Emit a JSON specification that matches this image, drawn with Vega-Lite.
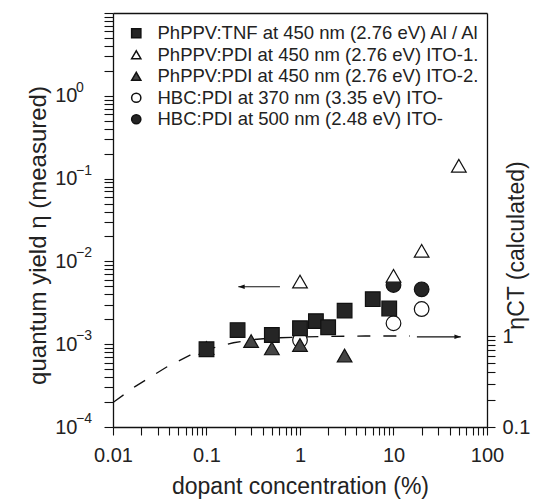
{
  "$schema": "https://vega.github.io/schema/vega-lite/v6.json",
  "width": 374,
  "height": 414,
  "autosize": {"type": "none"},
  "padding": {"left": 113, "top": 13, "right": 59, "bottom": 72},
  "background": "white",
  "config": {
    "font": "Liberation Sans",
    "view": {"stroke": null},
    "axis": {
      "grid": false,
      "domain": true,
      "domainColor": "#111",
      "domainWidth": 1.3,
      "tickColor": "#111",
      "tickWidth": 1.1,
      "labelColor": "#222",
      "labelFontSize": 20,
      "titleFontSize": 23,
      "titleFontWeight": "normal",
      "titleColor": "#222",
      "labelFlush": false,
      "labelOverlap": false
    }
  },
  "datasets": {
    "pts": [
      {"c": 10, "eta": 0.00519, "series": "HBC:PDI at 500 nm (2.48 eV) ITO-"},
      {"c": 20, "eta": 0.0046, "series": "HBC:PDI at 500 nm (2.48 eV) ITO-"},
      {"c": 1, "eta": 0.00112, "series": "HBC:PDI at 370 nm (3.35 eV) ITO-"},
      {"c": 10, "eta": 0.00179, "series": "HBC:PDI at 370 nm (3.35 eV) ITO-"},
      {"c": 20, "eta": 0.00266, "series": "HBC:PDI at 370 nm (3.35 eV) ITO-"},
      {"c": 0.1, "eta": 0.0009, "series": "PhPPV:PDI at 450 nm (2.76 eV) ITO-2."},
      {"c": 0.3, "eta": 0.00109, "series": "PhPPV:PDI at 450 nm (2.76 eV) ITO-2."},
      {"c": 0.5, "eta": 0.00089, "series": "PhPPV:PDI at 450 nm (2.76 eV) ITO-2."},
      {"c": 1, "eta": 0.00098, "series": "PhPPV:PDI at 450 nm (2.76 eV) ITO-2."},
      {"c": 3, "eta": 0.00073, "series": "PhPPV:PDI at 450 nm (2.76 eV) ITO-2."},
      {"c": 0.1, "eta": 0.00087, "series": "PhPPV:TNF at 450 nm (2.76 eV) Al / Al"},
      {"c": 0.215, "eta": 0.00148, "series": "PhPPV:TNF at 450 nm (2.76 eV) Al / Al"},
      {"c": 0.5, "eta": 0.00129, "series": "PhPPV:TNF at 450 nm (2.76 eV) Al / Al"},
      {"c": 1, "eta": 0.00156, "series": "PhPPV:TNF at 450 nm (2.76 eV) Al / Al"},
      {"c": 1.48, "eta": 0.0019, "series": "PhPPV:TNF at 450 nm (2.76 eV) Al / Al"},
      {"c": 2, "eta": 0.0016, "series": "PhPPV:TNF at 450 nm (2.76 eV) Al / Al"},
      {"c": 3, "eta": 0.00254, "series": "PhPPV:TNF at 450 nm (2.76 eV) Al / Al"},
      {"c": 6, "eta": 0.0035, "series": "PhPPV:TNF at 450 nm (2.76 eV) Al / Al"},
      {"c": 9, "eta": 0.0027, "series": "PhPPV:TNF at 450 nm (2.76 eV) Al / Al"},
      {"c": 1, "eta": 0.0057, "series": "PhPPV:PDI at 450 nm (2.76 eV) ITO-1."},
      {"c": 10, "eta": 0.0067, "series": "PhPPV:PDI at 450 nm (2.76 eV) ITO-1."},
      {"c": 20, "eta": 0.0134, "series": "PhPPV:PDI at 450 nm (2.76 eV) ITO-1."},
      {"c": 50, "eta": 0.143, "series": "PhPPV:PDI at 450 nm (2.76 eV) ITO-1."}
    ],
    "calc": [
      {"c": 0.01, "v": 0.186},
      {"c": 0.0172, "v": 0.278},
      {"c": 0.0375, "v": 0.456},
      {"c": 0.0667, "v": 0.615},
      {"c": 0.1, "v": 0.711},
      {"c": 0.194, "v": 0.843},
      {"c": 0.3, "v": 0.91},
      {"c": 0.5, "v": 0.95},
      {"c": 1, "v": 0.975},
      {"c": 2, "v": 0.99},
      {"c": 5, "v": 1.0},
      {"c": 15, "v": 1.0}
    ],
    "arrowL": [{"x1": 0.219, "x2": 0.61, "y": 0.00494}],
    "arrowR": [{"x1": 17.8, "x2": 52.4, "y": 0.98}],
    "expo": [
      {"c": 0.01, "e": 0.0001, "t": "−4"},
      {"c": 0.01, "e": 0.001, "t": "−3"},
      {"c": 0.01, "e": 0.01, "t": "−2"},
      {"c": 0.01, "e": 0.1, "t": "−1"},
      {"c": 0.01, "e": 1, "t": "0"}
    ]
  },
  "layer": [
    {
      "layer": [
        {
          "data": {"name": "calc"},
          "mark": {"type": "line", "color": "#111", "strokeWidth": 1.3, "strokeDash": [13, 13], "clip": true},
          "encoding": {
            "x": {
              "field": "c", "type": "quantitative",
              "scale": {"type": "log", "domain": [0.01, 100]},
              "axis": {
                "orient": "bottom",
                "title": "dopant concentration (%)",
                "titleY": 59,
                "titleBaseline": "middle",
                "values": [0.01, 0.02, 0.03, 0.04, 0.05, 0.06, 0.07, 0.08, 0.09, 0.1, 0.2, 0.3, 0.4, 0.5, 0.6, 0.7, 0.8, 0.9, 1, 2, 3, 4, 5, 6, 7, 8, 9, 10, 20, 30, 40, 50, 60, 70, 80, 90, 100],
                "labelExpr": "abs(log(datum.value)/LN10 - round(log(datum.value)/LN10)) < 0.01 ? datum.label : ''",
                "tickSize": 8,
                "labelPadding": 10,
                "encode": {"ticks": {"update": {"y2": {"signal": "abs(log(datum.value)/LN10 - round(log(datum.value)/LN10)) < 0.01 ? 8 : 4"}}}}
              }
            },
            "y": {"field": "v", "type": "quantitative", "scale": {"type": "log", "domain": [0.1, 3548], "nice": false},
              "axis": {
                "orient": "right",
                "title": "ηCT (calculated)",
                "titleAngle": 270,
                "titleX": 29,
                "titleY": 232,
                "titleBaseline": "middle",
                "titleAlign": "center",
                "values": [0.1, 0.2, 0.3, 0.4, 0.5, 0.6, 0.7, 0.8, 0.9, 1],
                "labelExpr": "datum.value > 0.95 ? '1' : (datum.value < 0.15 ? '0.1' : '')",
                "tickSize": 8,
                "labelPadding": 7,
                "labelBaseline": "middle",
                "encode": {"ticks": {"update": {"x2": {"signal": "(datum.value > 0.95 || datum.value < 0.15) ? 8 : 5"}}}}
              }
            }
          }
        },
        {
          "data": {"name": "arrowR"},
          "mark": {"type": "rule", "color": "#111", "strokeWidth": 1.2},
          "encoding": {
            "x": {"field": "x1", "type": "quantitative"},
            "x2": {"field": "x2"},
            "y": {"field": "y", "type": "quantitative"}
          }
        },
        {
          "data": {"name": "arrowR"},
          "mark": {"type": "point", "shape": "M0,0 L-2,-0.7 L-2,0.7 Z", "size": 40, "filled": true, "color": "#111", "opacity": 1},
          "encoding": {
            "x": {"field": "x2", "type": "quantitative"},
            "y": {"field": "y", "type": "quantitative"}
          }
        }
      ]
    },
    {
      "layer": [
        {
          "data": {"name": "pts"},
          "mark": {"type": "point", "filled": true, "stroke": "#111", "strokeWidth": 1.2, "opacity": 1, "size": 215},
          "encoding": {
            "x": {
              "field": "c", "type": "quantitative",
              "scale": {"type": "log", "domain": [0.01, 100]},
              "axis": {"orient": "top", "labels": false, "ticks": false, "title": null, "domain": true, "domainColor": "#111", "domainWidth": 1.3}
            },
            "y": {
              "field": "eta", "type": "quantitative",
              "scale": {"type": "log", "domain": [0.0001, 10], "nice": false},
              "axis": {
                "orient": "left",
                "title": "quantum yield η (measured)",
                "titleFontSize": 24,
                "titleAngle": 270,
                "titleX": -75,
                "titleY": 222,
                "titleBaseline": "middle",
                "titleAlign": "center",
                "values": [0.0001, 0.0002, 0.0003, 0.0004, 0.0005, 0.0006, 0.0007, 0.0008, 0.0009, 0.001, 0.002, 0.003, 0.004, 0.005, 0.006, 0.007, 0.008, 0.009, 0.01, 0.02, 0.03, 0.04, 0.05, 0.06, 0.07, 0.08, 0.09, 0.1, 0.2, 0.3, 0.4, 0.5, 0.6, 0.7, 0.8, 0.9, 1, 2, 3, 4, 5, 6, 7, 8, 9, 10],
                "labelExpr": "(abs(log(datum.value)/LN10 - round(log(datum.value)/LN10)) > 0.01 || datum.value > 5) ? '' : '10'",
                "tickSize": 9,
                "labelPadding": 27,
                "labelBaseline": "middle",
                "encode": {"ticks": {"update": {"x2": {"signal": "abs(log(datum.value)/LN10 - round(log(datum.value)/LN10)) < 0.01 ? -9 : -4"}}}}
              }
            },
            "shape": {
              "field": "series", "type": "nominal",
              "scale": {
                "domain": ["PhPPV:TNF at 450 nm (2.76 eV) Al / Al", "PhPPV:PDI at 450 nm (2.76 eV) ITO-1.", "PhPPV:PDI at 450 nm (2.76 eV) ITO-2.", "HBC:PDI at 370 nm (3.35 eV) ITO-", "HBC:PDI at 500 nm (2.48 eV) ITO-"],
                "range": ["square", "triangle-up", "triangle-up", "circle", "circle"]
              },
              "legend": {
                "orient": "none", "legendX": 14, "legendY": 11, "title": null,
                "labelFontSize": 18.5, "labelColor": "#222", "labelLimit": 500,
                "symbolSize": 85, "rowPadding": 2.5, "labelOffset": 12,
                "encode": {"symbols": {"update": {"stroke": {"value": "#111"}, "strokeWidth": {"value": 1}}}}
              }
            },
            "fill": {
              "field": "series", "type": "nominal",
              "scale": {
                "domain": ["PhPPV:TNF at 450 nm (2.76 eV) Al / Al", "PhPPV:PDI at 450 nm (2.76 eV) ITO-1.", "PhPPV:PDI at 450 nm (2.76 eV) ITO-2.", "HBC:PDI at 370 nm (3.35 eV) ITO-", "HBC:PDI at 500 nm (2.48 eV) ITO-"],
                "range": ["#252525", "#ffffff", "#454545", "#ffffff", "#252525"]
              },
              "legend": {
                "orient": "none", "legendX": 14, "legendY": 11, "title": null,
                "labelFontSize": 18.5, "labelColor": "#222", "labelLimit": 500,
                "symbolSize": 85, "rowPadding": 2.5, "labelOffset": 12,
                "encode": {"symbols": {"update": {"stroke": {"value": "#111"}, "strokeWidth": {"value": 1}}}}
              }
            }
          }
        },
        {
          "data": {"name": "arrowL"},
          "mark": {"type": "rule", "color": "#111", "strokeWidth": 1.2},
          "encoding": {
            "x": {"field": "x1", "type": "quantitative"},
            "x2": {"field": "x2"},
            "y": {"field": "y", "type": "quantitative"}
          }
        },
        {
          "data": {"name": "arrowL"},
          "mark": {"type": "point", "shape": "M0,0 L2,-0.7 L2,0.7 Z", "size": 40, "filled": true, "color": "#111", "opacity": 1},
          "encoding": {
            "x": {"field": "x1", "type": "quantitative"},
            "y": {"field": "y", "type": "quantitative"}
          }
        },
        {
          "data": {"name": "expo"},
          "mark": {"type": "text", "align": "left", "baseline": "middle", "dx": -37, "dy": -8, "fontSize": 14, "color": "#222", "clip": false},
          "encoding": {
            "x": {"field": "c", "type": "quantitative"},
            "y": {"field": "e", "type": "quantitative"},
            "text": {"field": "t"}
          }
        }
      ]
    }
  ],
  "resolve": {"scale": {"y": "independent", "x": "independent"}}
}
